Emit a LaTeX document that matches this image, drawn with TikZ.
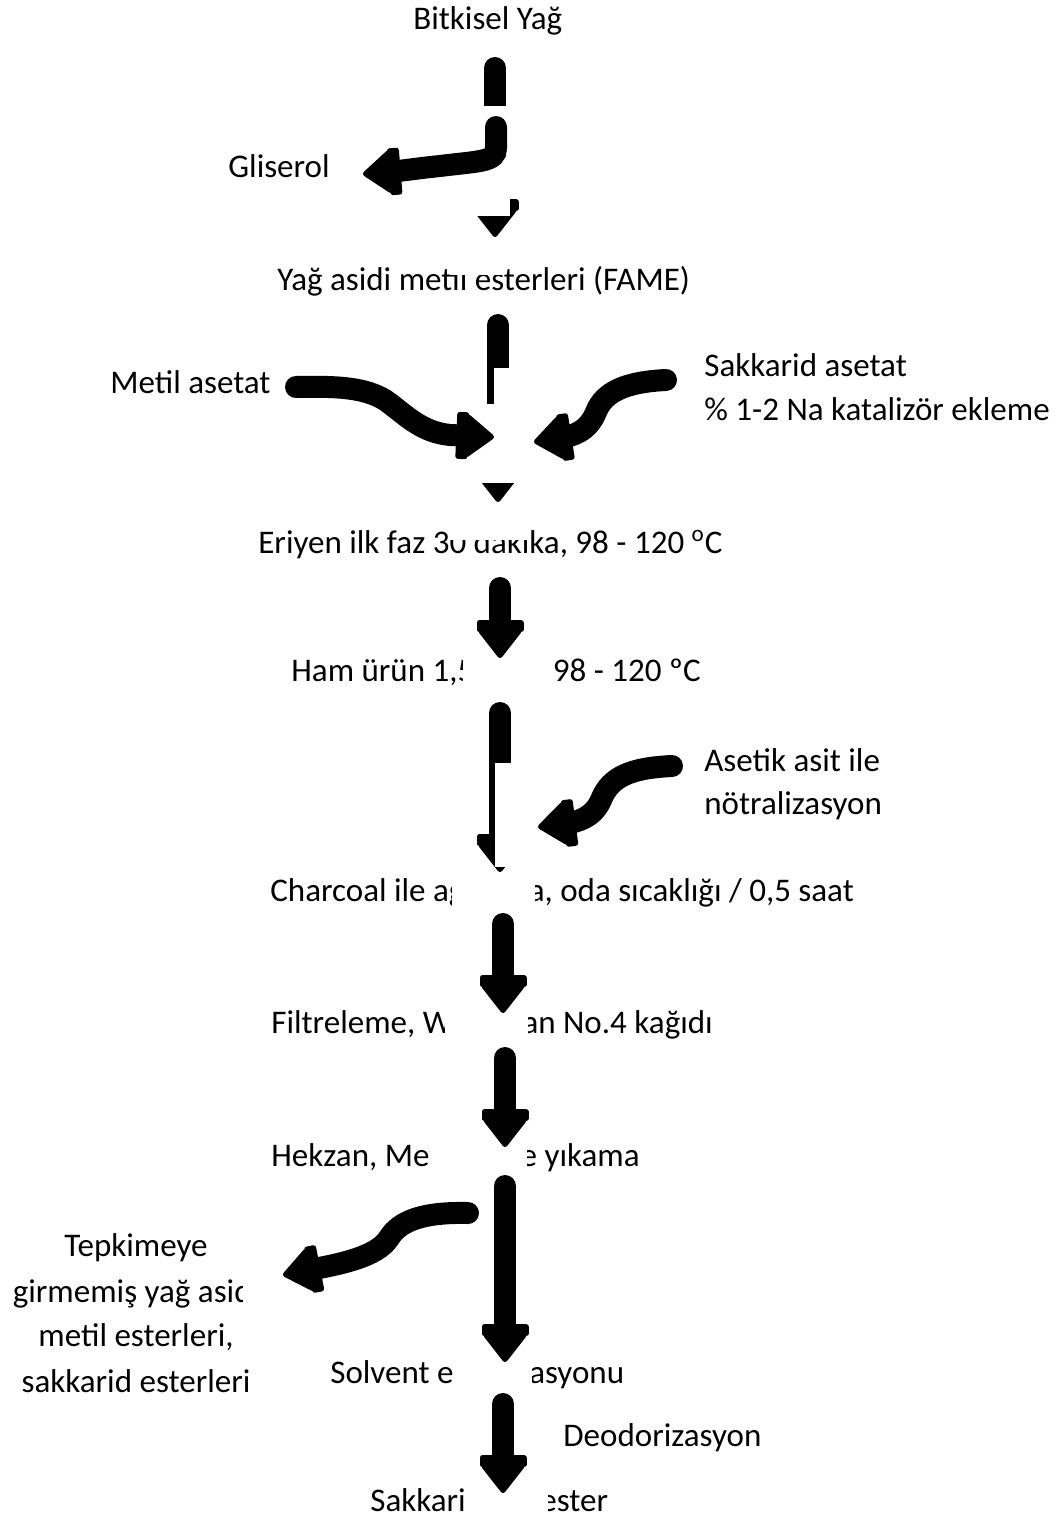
\documentclass[tikz,border=0pt]{standalone}
\usepackage{fontspec}
\setmainfont{Carlito}
\usetikzlibrary{arrows.meta, positioning}

\tikzset{
  stage/.style={font=\fontsize{18.8}{22}\selectfont, anchor=base west, inner sep=0pt},
  side/.style={stage, anchor=base},
  flow/.style={line width=0.44cm, line cap=round,
    -{Rectangle[length=0.24cm, width=0.94cm, line width=3pt, round, sep=-2pt]
      Triangle[length=0.62cm, width=0.94cm, line width=3pt, round]}},
  blank/.style={fill=white, draw=none}
}

\begin{document}
\begin{tikzpicture}[x=0.02cm, y=-0.02cm]
  \useasboundingbox (0,0) rectangle (1061,1521);

  % Process stages
  \node[stage] (oil) at (413,30) {Bitkisel Yağ};
  \node[stage] (glis) at (228,177) {Gliserol};
  \node[stage] (fame) at (277,290) {Yağ asidi metil esterleri (FAME)};
  \node[stage] (meac) at (110,393) {Metil asetat};
  \node[stage] (sac1) at (704,376) {Sakkarid asetat};
  \node[stage] (sac2) at (704,420) {\% 1-2 Na katalizör ekleme};
  \node[stage] (melt) at (258,553) {Eriyen ilk faz 30 dakika, 98 - 120 \textsuperscript{o}C};
  \node[stage] (crude) at (291,681) {Ham ürün 1,5 saat, 98 - 120 ºC};
  \node[stage] (acid1) at (704,771) {Asetik asit ile};
  \node[stage] (acid2) at (704,814) {nötralizasyon};
  \node[stage] (bleach) at (270,901) {Charcoal ile ağartma, oda sıcaklığı / 0,5 saat};
  \node[stage] (filt) at (271,1033) {Filtreleme, Whatman No.4 kağıdı};
  \node[stage] (wash) at (271,1166) {Hekzan, Metanol ile yıkama};
  \node[side] (rest1) at (136,1256) {Tepkimeye};
  \node[side] (rest2) at (136,1302) {girmemiş yağ asidi};
  \node[side] (rest3) at (136,1346) {metil esterleri,};
  \node[side] (rest4) at (136,1392) {sakkarid esterleri};
  \node[stage] (evap) at (330,1383) {Solvent evaporasyonu};
  \node[stage] (deod) at (563,1446) {Deodorizasyon};
  \node[stage] (spe) at (370,1511) {Sakkarid poliester};

  % Main line, every arrow sits on its own white patch
  \foreach \n/\x/\top/\tip/\bl/\br/\bt/\bb in {
      a1/495/68/237/450/503/45/275,
      a2/498/325/502/450/530/300/540,
      a3/500/588/658/463/550/563/692,
      a4/500/713/872/452/535/692/908,
      a5/503/924/1013/445/528/908/1042,
      a6/505/1058/1147/430/527/1042/1175,
      a7/505/1186/1362/453/532/1172/1395,
      a8/503/1404/1493/466/548/1395/1521} {
    \fill[blank] (\bl,\bt) rectangle (\br,\bb);
    \coordinate (\n-s) at (\x,\top);
    \coordinate (\n-e) at (\x,\tip);
    \draw[flow] (\n-s) -- (\n-e);
  }

  % Glycerol out
  \fill[blank] (355,106) rectangle (510,216);
  \coordinate (g-s) at (496,127);
  \coordinate (g-e) at (363,174);
  \draw[flow] (g-s) -- (496,148) .. controls (496,162) and (480,161) .. (440,166)
    .. controls (420,168) and (400,171) .. (g-e);

  % Saccharide acetate in
  \fill[blank] (494,368) rectangle (692,483);
  \coordinate (sa-s) at (666,380);
  \coordinate (sa-e) at (534,442);
  \draw[flow] (sa-s) .. controls (625,382) and (604,392) .. (596,412)
    .. controls (588,432) and (572,436) .. (sa-e);

  % Methyl acetate in
  \fill[blank] (280,404) rectangle (528,483);
  \coordinate (ma-s) at (296,387);
  \coordinate (ma-e) at (494,437);
  \draw[flow] (ma-s) .. controls (340,386) and (365,388) .. (385,400)
    .. controls (405,414) and (420,432) .. (450,435) -- (ma-e);

  % Neutralisation
  \fill[blank] (495,763) rectangle (690,867);
  \coordinate (ac-s) at (672,766);
  \coordinate (ac-e) at (538,827);
  \draw[flow] (ac-s) .. controls (630,768) and (610,777) .. (601,800)
    .. controls (593,818) and (577,822) .. (ac-e);

  % Unreacted material out
  \fill[blank] (243,1195) rectangle (490,1315);
  \coordinate (un-s) at (468,1213);
  \coordinate (un-e) at (283,1275);
  \draw[flow] (un-s) .. controls (425,1212) and (400,1220) .. (389,1238)
    .. controls (377,1257) and (340,1264) .. (un-e);
\end{tikzpicture}
\end{document}
